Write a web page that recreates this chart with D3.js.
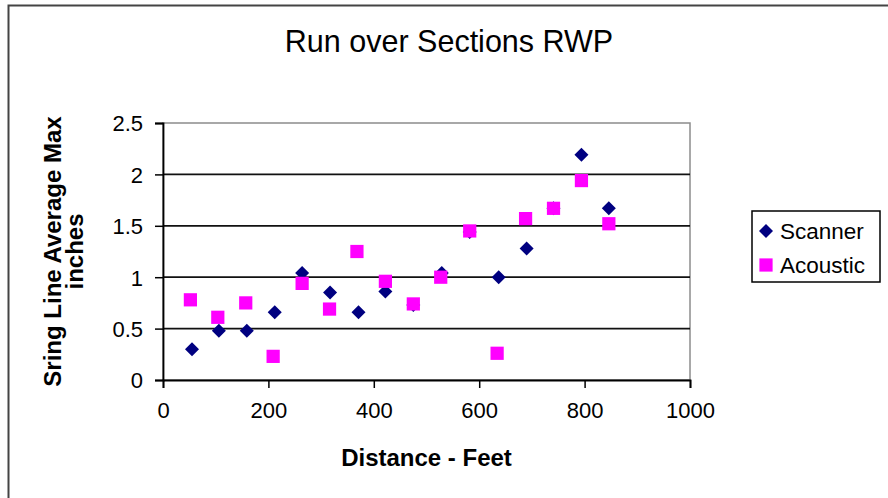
<!DOCTYPE html>
<html>
<head>
<meta charset="utf-8">
<script src="https://cdn.jsdelivr.net/npm/d3@7"></script>
<style>
  html, body { margin: 0; padding: 0; background: #fff; }
  svg { display: block; }
  text { font-family: "Liberation Sans", Arial, sans-serif; fill: #000; }
</style>
</head>
<body>
<svg id="chart" width="888" height="498"></svg>
<script>
// Series data: distance (feet) and string-line average max (inches)
const scannerX = [55, 106, 159, 212, 264, 317, 371, 422, 475, 529, 582, 637, 690, 741, 794, 846];
const scannerY = [0.30, 0.48, 0.48, 0.66, 1.04, 0.85, 0.66, 0.86, 0.73, 1.04, 1.44, 1.00, 1.28, 1.67, 2.19, 1.67];
const acousticX = [52, 104, 157, 209, 264, 316, 368, 422, 475, 527, 582, 634, 688, 741, 794, 846];
const acousticY = [0.78, 0.61, 0.75, 0.23, 0.94, 0.69, 1.25, 0.96, 0.74, 1.00, 1.45, 0.26, 1.57, 1.67, 1.94, 1.52];
const xTicks = [0, 200, 400, 600, 800, 1000];
const yTicks = [0, 0.5, 1, 1.5, 2, 2.5];
const seriesNames = ["Scanner", "Acoustic"];
const seriesColors = ["#000080", "#ff00ff"];

const svg = d3.select("#chart");
const plot = { left: 163, right: 690, top: 123, bottom: 380 };

const x = d3.scaleLinear().domain([0, 1000]).range([plot.left, plot.right]);
const y = d3.scaleLinear().domain([0, 2.5]).range([plot.bottom, plot.top]);

// Outer chart frame
svg.append("rect")
  .attr("x", 8.5).attr("y", 5.5).attr("width", 900).attr("height", 520)
  .attr("fill", "#fff").attr("stroke", "#444").attr("stroke-width", 2);

// Title
svg.append("text")
  .attr("x", 449).attr("y", 52)
  .attr("text-anchor", "middle")
  .style("font-size", "30.5px")
  .text("Run over Sections RWP");

// Plot area border
svg.append("rect")
  .attr("x", plot.left).attr("y", plot.top)
  .attr("width", plot.right - plot.left).attr("height", plot.bottom - plot.top)
  .attr("fill", "#fff").attr("stroke", "#8c8c8c").attr("stroke-width", 1.5);

// Horizontal gridlines
svg.append("g")
  .selectAll("line")
  .data(yTicks.filter(d => d > 0 && d < 2.5))
  .join("line")
  .attr("x1", plot.left).attr("x2", plot.right)
  .attr("y1", d => y(d)).attr("y2", d => y(d))
  .attr("stroke", "#111").attr("stroke-width", 1.8);

// Axes
const yAxis = svg.append("g")
  .attr("transform", `translate(${plot.left},0)`)
  .call(d3.axisLeft(y).tickValues(yTicks).tickFormat(d => String(d)).tickSize(8).tickPadding(12));
const xAxis = svg.append("g")
  .attr("transform", `translate(0,${plot.bottom})`)
  .call(d3.axisBottom(x).tickValues(xTicks).tickFormat(d => String(d)).tickSize(8).tickPadding(14));

[yAxis, xAxis].forEach(g => {
  g.select(".domain").attr("stroke", "#000").attr("stroke-width", 1.8);
  g.selectAll(".tick line").attr("stroke", "#000").attr("stroke-width", 1.5);
  g.selectAll(".tick text")
    .attr("fill", "#000")
    .style("font-family", "'Liberation Sans', Arial, sans-serif")
    .style("font-size", "22px");
});
yAxis.selectAll(".tick text").attr("dy", "0.36em");

// Axis titles
svg.append("text")
  .attr("x", x(500)).attr("y", 466)
  .attr("text-anchor", "middle")
  .style("font-size", "24px").style("font-weight", "bold")
  .text("Distance - Feet");

const yTitle = svg.append("text")
  .attr("transform", `translate(61,${(plot.top + plot.bottom) / 2}) rotate(-90)`)
  .attr("text-anchor", "middle")
  .style("font-size", "24px").style("font-weight", "bold");
yTitle.append("tspan").attr("x", 0).attr("dy", 0).text("Sring Line Average Max");
yTitle.append("tspan").attr("x", 0).attr("dy", 22).text("inches");

// Marker shapes
const diamond = d3.symbol().type(d3.symbolDiamond2).size(125);
const square = d3.symbol().type(d3.symbolSquare).size(175);

const scanner = scannerX.map((d, i) => ({ x: d, y: scannerY[i] }));
const acoustic = acousticX.map((d, i) => ({ x: d, y: acousticY[i] }));

svg.append("g")
  .selectAll("path")
  .data(scanner)
  .join("path")
  .attr("d", diamond)
  .attr("transform", d => `translate(${x(d.x)},${y(d.y)})`)
  .attr("fill", seriesColors[0]);

svg.append("g")
  .selectAll("path")
  .data(acoustic)
  .join("path")
  .attr("d", square)
  .attr("transform", d => `translate(${x(d.x)},${y(d.y)})`)
  .attr("fill", seriesColors[1]);

// Legend
const legend = svg.append("g");
legend.append("rect")
  .attr("x", 752).attr("y", 211).attr("width", 128).attr("height", 71)
  .attr("fill", "#fff").attr("stroke", "#000").attr("stroke-width", 1.5);
const shapes = [diamond, square];
seriesNames.forEach((name, i) => {
  const cy = 231 + i * 34;
  legend.append("path")
    .attr("d", shapes[i])
    .attr("transform", `translate(766,${cy})`)
    .attr("fill", seriesColors[i]);
  legend.append("text")
    .attr("x", 780).attr("y", cy + 7.5)
    .style("font-size", "22.5px")
    .text(name);
});
</script>
</body>
</html>
